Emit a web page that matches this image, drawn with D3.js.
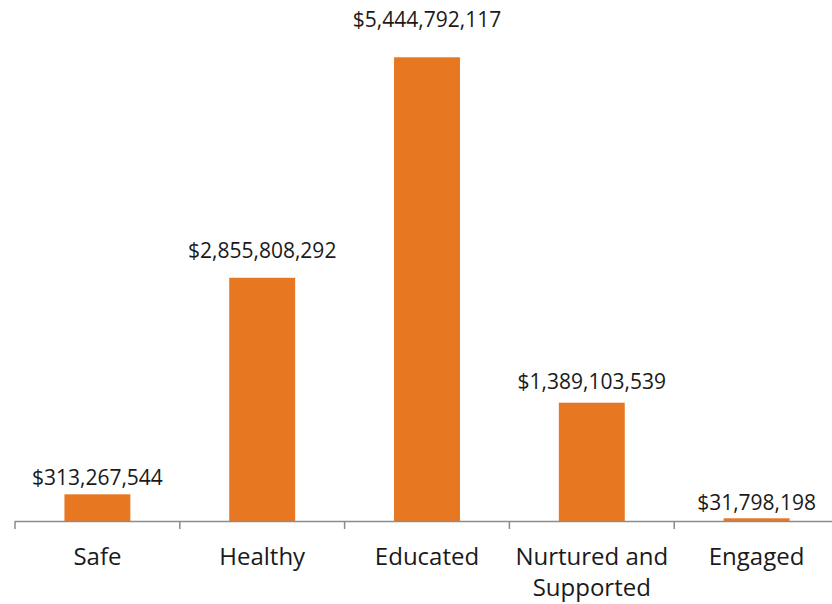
<!DOCTYPE html>
<html>
<head>
<meta charset="utf-8">
<script src="https://cdn.jsdelivr.net/npm/d3@7"></script>
<style>
  body { margin: 0; background: #fff; }
  svg { display: block; font-family: "Open Sans", sans-serif; }
</style>
</head>
<body>
<svg id="chart" width="832" height="604"></svg>
<script>
var categories = ['Safe', 'Healthy', 'Educated', 'Nurtured and Supported', 'Engaged'];
var amounts = [313267544, 2855808292, 5444792117, 1389103539, 31798198];
var categoryLines = [['Safe'], ['Healthy'], ['Educated'], ['Nurtured and', 'Supported'], ['Engaged']];

var svg = d3.select('#chart'),
    baseY = 521,
    left = 15,
    bandW = 164.8,
    orange = '#E87722',
    axisGrey = '#8c8c8c';

var x = d3.scaleBand()
    .domain(categories)
    .range([left, left + bandW * categories.length])
    .paddingInner(0.6)
    .paddingOuter(0.3);

var y = d3.scaleLinear()
    .domain([0, 6000000000])
    .range([baseY, baseY - 511]);

var money = function (v) { return '$' + d3.format(',')(v); };

svg.selectAll('rect.bar')
    .data(amounts)
    .enter().append('rect')
    .attr('class', 'bar')
    .attr('x', function (d, i) { return x(categories[i]); })
    .attr('y', function (d) { return y(d); })
    .attr('width', x.bandwidth())
    .attr('height', function (d) { return baseY - y(d); })
    .attr('fill', orange);

// labels sit a bit higher above the taller bars
svg.selectAll('text.value')
    .data(amounts)
    .enter().append('text')
    .attr('class', 'value')
    .attr('x', function (d, i) { return x(categories[i]) + x.bandwidth() / 2; })
    .attr('y', function (d) { return y(d) - 8 - 0.047 * (baseY - y(d)); })
    .attr('text-anchor', 'middle')
    .attr('font-size', 21)
    .attr('fill', '#1a1a1a')
    .text(money);

// axis line with tick marks at band edges
svg.append('line')
    .attr('x1', left).attr('x2', left + bandW * categories.length)
    .attr('y1', baseY + 0.5).attr('y2', baseY + 0.5)
    .attr('stroke', axisGrey).attr('stroke-width', 1.5);

svg.selectAll('line.tick')
    .data(d3.range(categories.length + 1))
    .enter().append('line')
    .attr('class', 'tick')
    .attr('x1', function (i) { return left + i * bandW; })
    .attr('x2', function (i) { return left + i * bandW; })
    .attr('y1', baseY).attr('y2', baseY + 8)
    .attr('stroke', axisGrey).attr('stroke-width', 1.5);

var cat = svg.selectAll('text.cat')
    .data(categoryLines)
    .enter().append('text')
    .attr('class', 'cat')
    .attr('text-anchor', 'middle')
    .attr('font-size', 24)
    .attr('fill', '#1a1a1a')
    .attr('transform', function (d, i) {
        return 'translate(' + (x(categories[i]) + x.bandwidth() / 2) + ',' + 565 + ')';
    });

cat.selectAll('tspan')
    .data(function (d) { return d; })
    .enter().append('tspan')
    .attr('x', 0)
    .attr('dy', function (d, j) { return j === 0 ? 0 : 31; })
    .text(function (d) { return d; });
</script>
</body>
</html>
